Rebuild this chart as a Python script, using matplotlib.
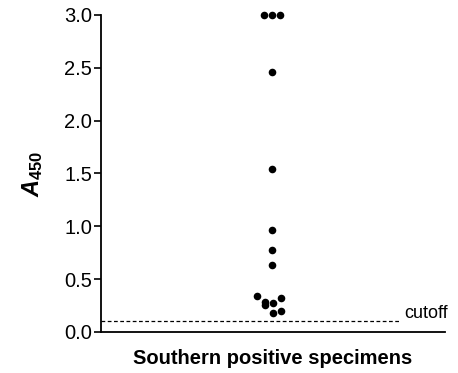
import matplotlib
matplotlib.use("Agg")
import matplotlib.pyplot as plt

plt.rcParams['font.family'] = ['Liberation Sans', 'DejaVu Sans']
plt.rcParams['mathtext.fontset'] = 'custom'
plt.rcParams['mathtext.it'] = 'Liberation Sans:italic:bold'
plt.rcParams['mathtext.bf'] = 'Liberation Sans:bold'
plt.rcParams['mathtext.rm'] = 'Liberation Sans:bold'

# Data: A450 values of Southern positive specimens
values = [3.0, 3.0, 3.0, 2.46, 1.54, 0.965, 0.776, 0.634,
          0.34, 0.287, 0.255, 0.277, 0.319, 0.183, 0.20]
x_offsets = [-0.023, 0.0, 0.023, 0.0, 0.0, 0.0, 0.0, 0.0,
             -0.042, -0.02, -0.02, 0.003, 0.026, 0.003, 0.026]
cutoff = 0.104
y_ticks = [0.0, 0.5, 1.0, 1.5, 2.0, 2.5, 3.0]
x_label = "Southern positive specimens"
y_label = r'$\mathit{A}_{\mathbf{450}}$'

fig = plt.figure(figsize=(4.58, 3.73), dpi=100)
ax = fig.add_axes([0.2205, 0.11, 0.751, 0.8498])

center = 0.497
xs = [center + o for o in x_offsets]
ax.scatter(xs, values, s=30, color='black', zorder=3, clip_on=False, linewidths=0)

ax.plot([0, 0.87], [cutoff, cutoff], linestyle=(0, (3, 2)), color='black', linewidth=0.9)
ax.text(0.882, cutoff + 0.03, "cutoff", fontsize=13, ha='left', va='baseline')

ax.set_xlim(0, 1)
ax.set_ylim(0, 3.0)
ax.set_yticks(y_ticks)
ax.set_yticklabels([f"{t:.1f}" for t in y_ticks], fontsize=14.5)
ax.set_xticks([])
ax.tick_params(axis='y', length=5, width=1.2, pad=1.5)
for side in ['top', 'right']:
    ax.spines[side].set_visible(False)
for side in ['left', 'bottom']:
    ax.spines[side].set_linewidth(1.3)

ax.set_xlabel(x_label, fontsize=14.5, fontweight='bold', labelpad=12)
ax.set_ylabel(y_label, fontsize=17, labelpad=14)

fig.savefig("out.png", dpi=100)
